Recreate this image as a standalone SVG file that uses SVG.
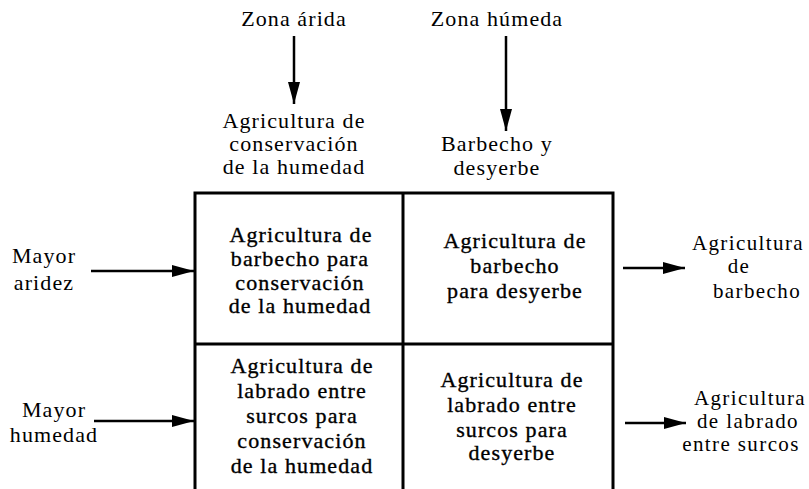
<svg xmlns="http://www.w3.org/2000/svg" width="809" height="489" viewBox="0 0 809 489">
<defs>
<marker id="ah" markerWidth="22" markerHeight="12" refX="22" refY="6" orient="auto" markerUnits="userSpaceOnUse">
<path d="M0,0 L22,6 L0,12 Z" fill="#000"/>
</marker>
<style>
text{font-family:"Liberation Serif","DejaVu Serif",serif;font-size:22px;fill:#000;text-anchor:middle;letter-spacing:1.1px}
.c text{stroke:#000;stroke-width:0.35px}
.r text{font-size:21px;letter-spacing:1.4px}
.ln{stroke:#000;stroke-width:3;fill:none}
.ar{stroke:#000;stroke-width:2.5;fill:none;marker-end:url(#ah)}
</style>
</defs>
<rect width="809" height="489" fill="#fff"/>
<g id="grid">
<path class="ln" d="M195,489 V193 H613 V489 M403,193 V489 M195,344 H613"/>
</g>
<g id="connectors">
<line class="ar" x1="294" y1="36" x2="294" y2="104"/>
<line class="ar" x1="506" y1="36" x2="506" y2="131"/>
<line class="ar" x1="91" y1="271" x2="194" y2="271"/>
<line class="ar" x1="94" y1="421" x2="194" y2="421"/>
<line class="ar" x1="623" y1="268" x2="685" y2="268"/>
<line class="ar" x1="625" y1="423" x2="686" y2="423"/>
</g>
<g id="zona-arida"><text x="294" y="26">Zona árida</text></g>
<g id="zona-humeda"><text x="497" y="26">Zona húmeda</text></g>
<g id="agri-conservacion"><text x="294" y="128">Agricultura de</text><text x="294" y="151">conservación</text><text x="294" y="174">de la humedad</text></g>
<g id="barbecho-desyerbe"><text x="497" y="151">Barbecho y</text><text x="497" y="175">desyerbe</text></g>
<g id="mayor-aridez"><text x="44" y="263">Mayor</text><text x="44" y="290">aridez</text></g>
<g id="mayor-humedad"><text x="54" y="417">Mayor</text><text x="54" y="442">humedad</text></g>
<g id="cell-tl" class="c"><text x="301" y="242">Agricultura de</text><text x="300" y="266">barbecho para</text><text x="300" y="290">conservación</text><text x="300" y="313">de la humedad</text></g>
<g id="cell-tr" class="c"><text x="515" y="248">Agricultura de</text><text x="515" y="273">barbecho</text><text x="515" y="298">para desyerbe</text></g>
<g id="cell-bl" class="c"><text x="302" y="373">Agricultura de</text><text x="302" y="398">labrado entre</text><text x="302" y="423">surcos para</text><text x="302" y="448">conservación</text><text x="302" y="473">de la humedad</text></g>
<g id="cell-br" class="c"><text x="512" y="387">Agricultura de</text><text x="512" y="412">labrado entre</text><text x="512" y="437">surcos para</text><text x="512" y="460">desyerbe</text></g>
<g id="agri-barbecho" class="r"><text x="748" y="250">Agricultura</text><text x="739" y="273">de</text><text x="757" y="298">barbecho</text></g>
<g id="agri-labrado" class="r"><text x="750" y="405">Agricultura</text><text x="748" y="428">de labrado</text><text x="741" y="451">entre surcos</text></g>
</svg>
